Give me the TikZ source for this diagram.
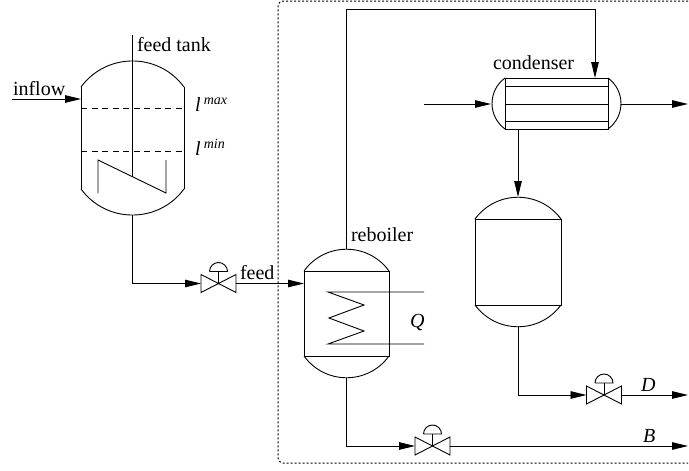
\documentclass[tikz,border=0pt]{standalone}
\usepackage{fontspec}
\setmainfont{Liberation Serif}
\usetikzlibrary{arrows.meta,positioning,calc}
\tikzset{
  every picture/.style={line width=0.9pt, font=\fontsize{20}{24}\selectfont},
  vessel/.style={rectangle, inner sep=0pt, outer sep=0pt},
  valve/.style={rectangle, inner sep=0pt, outer sep=0pt, minimum width=35pt, minimum height=18pt},
  flow/.style={-{Triangle[length=16pt,width=7.5pt]}},
  level/.style={dashed, dash pattern=on 6pt off 4.5pt, line width=0.7pt},
  boundary/.style={line width=1pt, dash pattern=on 2pt off 2pt, rounded corners=5pt},
  tag/.style={anchor=base west, inner sep=0pt, outer sep=0pt},
}
% level label with a small raised index
\newcommand{\levelmark}[1]{\textit{l}\,\raisebox{7pt}{\fontsize{14}{16}\selectfont\textit{#1}}}
% valve body with its actuator on top
\newcommand{\valvebody}[1]{
  \draw (#1.north west) -- (#1.south east) -- (#1.north east) -- (#1.south west) -- cycle;
  \draw (#1.center) -- ++(0,-12);
  \draw ($(#1.center)+(-9,-12)$) -- ++(18,0) arc[start angle=0, end angle=-180, radius=9];
}
\begin{document}
\begin{tikzpicture}[x=1pt, y=-1pt]
\useasboundingbox (0,0) rectangle (689,471);
% vessels
\node[vessel, minimum width=103pt, minimum height=102pt] (tank) at (132.5,138) {};
\node[vessel, draw, minimum width=85pt, minimum height=85pt] (reboiler) at (346.5,313.5) {};
\node[vessel, draw, minimum width=103pt, minimum height=51pt] (condenser) at (556.5,103.5) {};
\node[vessel, draw, minimum width=86pt, minimum height=86pt] (drum) at (518,262) {};
\draw (tank.north west) -- (tank.south west);
\draw (tank.north east) -- (tank.south east);
\draw (tank.north west) .. controls +(25.5,-34.7) and +(-25.5,-34.7) .. (tank.north east);
\draw (tank.south west) .. controls +(25.5,34.7) and +(-25.5,34.7) .. (tank.south east);
\draw (reboiler.north west) .. controls +(21,-29) and +(-21,-29) .. (reboiler.north east);
\draw (reboiler.south west) .. controls +(21,29) and +(-21,29) .. (reboiler.south east);
\draw (drum.north west) .. controls +(21.5,-29) and +(-21.5,-29) .. (drum.north east);
\draw (drum.south west) .. controls +(21.5,29) and +(-21.5,29) .. (drum.south east);
\draw (condenser.north west) .. controls +(-17.3,12.75) and +(-17.3,-12.75) .. (condenser.south west);
\draw (condenser.north east) .. controls +(17.3,12.75) and +(17.3,-12.75) .. (condenser.south east);
% tank internals
\draw[level] (81,108) -- (184,108);
\draw[level] (81,151) -- (184,151);
\draw (132,35) -- (132,176);
\draw (98,193) -- (98,160) -- (166,193) -- (166,160);
% condenser tubes
\foreach \y in {86.5, 104, 121} \draw (505,\y) -- (608,\y);
% heating coil
\draw (424,292) -- (328,292) -- (364,305) -- (329,318) -- (364,331) -- (328,344) -- (424,344);
% valves
\node[valve] (feedvalve) at (218.5,283.5) {};
\node[valve] (topvalve) at (604,395) {};
\node[valve] (bottomvalve) at (432.5,446) {};
\foreach \v in {feedvalve, topvalve, bottomvalve} {\valvebody{\v}}
% free ends
\coordinate (tankout) at (132,215);
\coordinate (reboilertop) at (346,249);
\coordinate (reboilerout) at (346,378);
\coordinate (drumtop) at (518,197);
\coordinate (drumout) at (518,326);
\coordinate (condenserin) at (595,78);
\coordinate (condenserout) at (518,129);
\coordinate (inflowstart) at (12,99);
\coordinate (coolin) at (424,104);
\coordinate (coolout) at (688,104);
\coordinate (topout) at (688,395);
\coordinate (bottomout) at (688,446);
% streams
\draw[flow] (inflowstart) -- (inflowstart -| tank.west);
\draw[flow] (tankout) |- (feedvalve.west);
\draw[flow] (feedvalve.east) -- (reboiler.west |- feedvalve.east);
\draw[flow] (reboilertop) -- (346,9) -| (condenserin);
\draw[flow] (coolin) -- ++(67,0);
\draw[flow] (621,104) -- (coolout);
\draw[flow] (condenserout) -- (drumtop);
\draw[flow] (drumout) |- (topvalve.west);
\draw[flow] (topvalve.east) -- (topout);
\draw[flow] (reboilerout) |- (bottomvalve.west);
\draw[flow] (bottomvalve.east) -- (bottomout);
% system boundary
\draw[boundary] (688,1) -- (278,1) -- (278,463) -- (688,463);
% labels
\node[tag] (tanklabel) at (137,52) {feed tank};
\node[tag] (inflowlabel) at (13,95) {inflow};
\node[tag] (maxlabel) at (195,111) {\levelmark{max}};
\node[tag] (minlabel) at (195,155) {\levelmark{min}};
\node[tag] (feedlabel) at (240,279) {feed};
\node[tag] (reboilerlabel) at (351,241) {reboiler};
\node[tag] (condenserlabel) at (493,69) {condenser};
\node[tag] (qlabel) at (410,327) {\textit{Q}};
\node[tag] (dlabel) at (641,391) {\textit{D}};
\node[tag] (blabel) at (643,442) {\textit{B}};
\end{tikzpicture}
\end{document}
